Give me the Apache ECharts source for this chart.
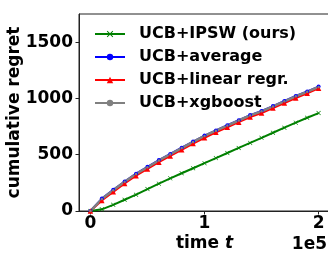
<!DOCTYPE html>
<html>
<head>
<meta charset="utf-8">
<script src="https://cdn.jsdelivr.net/npm/echarts@6/dist/echarts.min.js"></script>
<style>
  html, body { margin: 0; padding: 0; background: #fff; }
  #chart { width: 328px; height: 253px; }
</style>
</head>
<body>
<div id="chart"></div>
<script>
const steps = [0, 10000, 20000, 30000, 40000, 50000, 60000, 70000, 80000, 90000, 100000,
  110000, 120000, 130000, 140000, 150000, 160000, 170000, 180000, 190000, 200000]

const ipsw = [0, 15, 55, 100, 145, 195, 243, 290, 335, 380, 425, 470, 515, 560, 605, 650, 695, 740, 785, 828, 870]
const average = [0, 110, 188, 262, 332, 392, 452, 507, 562, 617, 670, 716, 762, 807, 852, 888, 932, 977, 1022, 1062, 1105]
const linearRegr = [0, 94, 170, 245, 314, 374, 434, 489, 544, 599, 650, 699, 744, 789, 834, 870, 914, 959, 1004, 1045, 1090]
const xgboost = [0, 106, 185, 259, 329, 389, 449, 504, 559, 614, 667, 713, 759, 804, 849, 885, 929, 974, 1019, 1059, 1102]

const seriesNames = ["UCB+IPSW (ours)", "UCB+average", "UCB+linear regr.", "UCB+xgboost"]
const xTicks = [0, 100000, 200000]
const yTicks = [0, 500, 1000, 1500]

const FONT = "DejaVu Sans"
const crossPath = "path://M0,1L1,0L5,4L9,0L10,1L6,5L10,9L9,10L5,6L1,10L0,9L4,5Z"

const pairs = (ys) => steps.map((t, i) => [t, ys[i]])

const makeSeries = (name, ys, color, symbol, size, width) => ({
  name,
  type: "line",
  data: pairs(ys),
  color,
  symbol,
  symbolSize: size,
  showAllSymbol: true,
  lineStyle: { width, color },
  itemStyle: { color },
  animation: false
})

const chart = echarts.init(document.getElementById("chart"), null, { renderer: "canvas" })
chart.setOption({
  backgroundColor: "#fff",
  animation: false,
  grid: {
    left: 79, top: 14, right: -2, bottom: 42,
    containLabel: false,
    outerBoundsMode: "none",
    show: true, borderColor: "#222", borderWidth: 1
  },
  legend: {
    orient: "vertical",
    left: 94,
    top: 26,
    padding: 0,
    itemWidth: 30,
    itemHeight: 8,
    itemGap: 7,
    textStyle: {
      fontFamily: FONT, fontWeight: "bold", fontSize: 16,
      lineHeight: 16, color: "#000", padding: [0, 0, 0, 9]
    },
    data: seriesNames
  },
  xAxis: {
    type: "value",
    min: -10000,
    max: 210000,
    name: "{a|time }{b|t}",
    nameLocation: "middle",
    nameGap: 24,
    nameMoveOverlap: false,
    nameTextStyle: {
      rich: {
        a: { fontFamily: FONT, fontWeight: "bold", fontSize: 17, color: "#000" },
        b: { fontFamily: FONT, fontWeight: "bold", fontStyle: "italic", fontSize: 17, color: "#000" }
      }
    },
    splitLine: { show: false },
    axisLine: { show: true, onZero: false, lineStyle: { color: "#222", width: 1 } },
    axisTick: { show: true, length: 3.5, customValues: xTicks, lineStyle: { color: "#222" } },
    axisLabel: {
      customValues: xTicks,
      formatter: (v) => String(v / 100000),
      margin: 4,
      fontFamily: FONT, fontWeight: "bold", fontSize: 17, color: "#000"
    }
  },
  yAxis: {
    type: "value",
    min: 0,
    max: 1750,
    name: "cumulative regret",
    nameLocation: "middle",
    nameGap: 56,
    nameMoveOverlap: false,
    nameTextStyle: { fontFamily: FONT, fontWeight: "bold", fontSize: 17, color: "#000" },
    splitLine: { show: false },
    axisLine: { show: true, onZero: false, lineStyle: { color: "#222", width: 1 } },
    axisTick: { show: true, length: 3.5, customValues: yTicks, lineStyle: { color: "#222" } },
    axisLabel: {
      customValues: yTicks,
      formatter: (v) => String(v),
      margin: 6,
      fontFamily: FONT, fontWeight: "bold", fontSize: 17, color: "#000"
    }
  },
  graphic: [{
    type: "text",
    right: 1,
    top: 236,
    style: { text: "1e5", font: "bold 17px DejaVu Sans", fill: "#000" }
  }],
  series: [
    makeSeries(seriesNames[0], ipsw, "#008000", crossPath, 4.5, 2),
    makeSeries(seriesNames[1], average, "#0000ff", "circle", 4, 2),
    makeSeries(seriesNames[2], linearRegr, "#ff0000", "triangle", 5.5, 2),
    makeSeries(seriesNames[3], xgboost, "#808080", "circle", 2.5, 2.5)
  ]
})
</script>
</body>
</html>
